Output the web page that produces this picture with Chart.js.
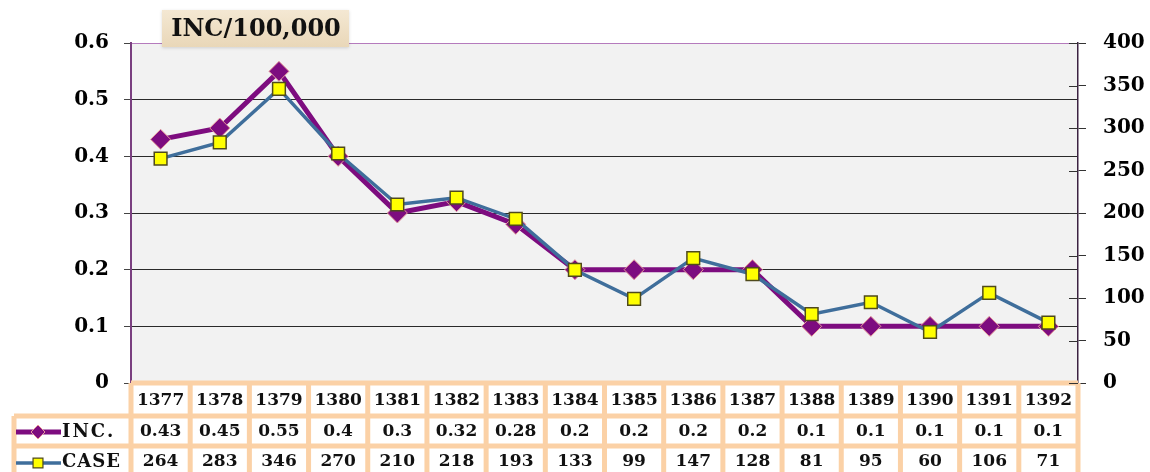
<!DOCTYPE html>
<html>
<head>
<meta charset="utf-8">
<title>INC/100,000</title>
<script src="https://cdn.jsdelivr.net/npm/chart.js@4/dist/chart.umd.min.js"></script>
<style>
  html, body { margin: 0; padding: 0; background: #fff; }
  #incidenceChart { display: block; }
</style>
</head>
<body>
<canvas id="incidenceChart" width="1150" height="472"></canvas>
<script>
// chart data
const years = ['1377', '1378', '1379', '1380', '1381', '1382', '1383', '1384',
               '1385', '1386', '1387', '1388', '1389', '1390', '1391', '1392'];
const incValues = [0.43, 0.45, 0.55, 0.4, 0.3, 0.32, 0.28, 0.2, 0.2, 0.2, 0.2, 0.1, 0.1, 0.1, 0.1, 0.1];
const caseValues = [264, 283, 346, 270, 210, 218, 193, 133, 99, 147, 128, 81, 95, 60, 106, 71];
const incTicks = [0, 0.1, 0.2, 0.3, 0.4, 0.5, 0.6];
const caseTicks = [0, 50, 100, 150, 200, 250, 300, 350, 400];
const titleText = 'INC/100,000';

document.addEventListener("DOMContentLoaded", function(event) {
    const FONT = "'DejaVu Serif', serif";
    const INC_COLOR = '#7d0c7f';
    const CASE_COLOR = '#3f6e9b';
    const TABLE_BORDER = '#fbd1a6';

    // grey plot area like excel
    const plotBackground = {
        id: 'plotBackground',
        beforeDraw(chart) {
            const { ctx, chartArea: a } = chart;
            ctx.save();
            ctx.fillStyle = '#f2f2f2';
            ctx.fillRect(a.left, a.top, a.right - a.left, a.bottom - a.top);
            ctx.restore();
        }
    };

    /**
     * Draws the excel style data table under the plot, columns follow the x scale
     */
    const dataTable = {
        id: 'dataTable',
        afterDraw(chart) {
            const { ctx, chartArea: a } = chart;
            const x = chart.scales.x;
            const colW = (a.right - a.left) / years.length;
            const rowLines = [a.bottom, 416, 446, chart.height + 10];
            const rowText = [401, 432, 462];
            const legendLeft = 14;

            ctx.save();
            ctx.fillStyle = '#fff';
            ctx.fillRect(a.left, a.bottom, a.right - a.left, chart.height - a.bottom);
            ctx.fillRect(legendLeft, rowLines[1], a.left - legendLeft, chart.height - rowLines[1]);

            ctx.strokeStyle = TABLE_BORDER;
            ctx.lineWidth = 5;
            ctx.beginPath();
            ctx.moveTo(a.left, rowLines[0]);
            ctx.lineTo(a.right, rowLines[0]);
            [rowLines[1], rowLines[2]].forEach((yy) => {
                ctx.moveTo(legendLeft, yy);
                ctx.lineTo(a.right, yy);
            });
            years.forEach((year, i) => {
                const left = x.getPixelForValue(i) - colW / 2;
                ctx.moveTo(left, rowLines[0]);
                ctx.lineTo(left, rowLines[3]);
            });
            ctx.moveTo(a.right, rowLines[0]);
            ctx.lineTo(a.right, rowLines[3]);
            ctx.moveTo(legendLeft, rowLines[1]);
            ctx.lineTo(legendLeft, rowLines[3]);
            ctx.stroke();

            // cell texts
            ctx.fillStyle = '#111';
            ctx.font = 'bold 17px ' + FONT;
            ctx.textAlign = 'center';
            ctx.textBaseline = 'middle';
            years.forEach((year, i) => {
                const cx = x.getPixelForValue(i);
                ctx.fillText(year, cx, rowText[0]);
                ctx.fillText(String(incValues[i]), cx, rowText[1]);
                ctx.fillText(String(caseValues[i]), cx, rowText[2]);
            });

            // legend keys
            ctx.lineWidth = 5;
            ctx.strokeStyle = INC_COLOR;
            ctx.beginPath();
            ctx.moveTo(16, rowText[1]);
            ctx.lineTo(61, rowText[1]);
            ctx.stroke();
            ctx.fillStyle = INC_COLOR;
            ctx.strokeStyle = '#e69a9a';
            ctx.lineWidth = 1;
            Chart.helpers.drawPoint(ctx, { pointStyle: 'rectRot', radius: 7, borderWidth: 1 }, 38, rowText[1]);

            ctx.lineWidth = 3.5;
            ctx.strokeStyle = CASE_COLOR;
            ctx.beginPath();
            ctx.moveTo(16, rowText[2] + 1);
            ctx.lineTo(61, rowText[2] + 1);
            ctx.stroke();
            ctx.fillStyle = '#ffff00';
            ctx.strokeStyle = '#4f4a1c';
            ctx.lineWidth = 1.2;
            Chart.helpers.drawPoint(ctx, { pointStyle: 'rect', radius: 7, borderWidth: 1.2 }, 38, rowText[2] + 1);

            ctx.fillStyle = '#111';
            ctx.textAlign = 'left';
            ctx.font = 'bold 18px ' + FONT;
            ctx.letterSpacing = '2px';
            ctx.fillText('INC.', 62, rowText[1]);
            ctx.letterSpacing = '1px';
            ctx.fillText('CASE', 62, rowText[2]);
            ctx.restore();
        }
    };

    // right axis ticks cross the axis line, draw the inner half
    const innerTicks = {
        id: 'innerTicks',
        afterDraw(chart) {
            const { ctx, chartArea: a } = chart;
            const y1 = chart.scales.y1;
            ctx.save();
            ctx.strokeStyle = '#333';
            ctx.lineWidth = 1;
            ctx.beginPath();
            y1.ticks.forEach((t) => {
                const yy = Math.round(y1.getPixelForValue(t.value)) + 0.5;
                ctx.moveTo(a.right - 9, yy);
                ctx.lineTo(a.right, yy);
            });
            ctx.stroke();
            ctx.restore();
        }
    };

    // the beige label box in the top left
    const titleBox = {
        id: 'titleBox',
        afterDraw(chart) {
            const { ctx } = chart;
            ctx.save();
            ctx.shadowColor = 'rgba(0,0,0,0.15)';
            ctx.shadowBlur = 3;
            ctx.shadowOffsetY = 1;
            const grad = ctx.createLinearGradient(0, 10, 0, 47);
            grad.addColorStop(0, '#f4e8d3');
            grad.addColorStop(1, '#e9d7b8');
            ctx.fillStyle = grad;
            ctx.fillRect(162, 10, 187, 37);
            ctx.shadowColor = 'transparent';
            ctx.fillStyle = '#111';
            ctx.font = 'bold 24px ' + FONT;
            ctx.textAlign = 'center';
            ctx.textBaseline = 'middle';
            ctx.fillText(titleText, 256, 30);
            ctx.restore();
        }
    };

    const tickFont = { family: FONT, size: 20, weight: 'bold' };
    const incMax = incTicks[incTicks.length - 1];

    new Chart(document.getElementById('incidenceChart'), {
        type: 'line',
        data: {
            labels: years,
            datasets: [{
                label: 'INC.',
                data: incValues,
                yAxisID: 'y',
                borderColor: INC_COLOR,
                borderWidth: 5,
                pointStyle: 'rectRot',
                pointRadius: 10,
                pointBackgroundColor: INC_COLOR,
                pointBorderColor: '#e69a9a',
                pointBorderWidth: 1,
                order: 1
            }, {
                label: 'CASE',
                data: caseValues,
                yAxisID: 'y1',
                borderColor: CASE_COLOR,
                borderWidth: 3.5,
                pointStyle: 'rect',
                pointRadius: 9,
                pointBackgroundColor: '#ffff00',
                pointBorderColor: '#4f4a1c',
                pointBorderWidth: 1.5,
                order: 0
            }]
        },
        options: {
            responsive: false,
            animation: false,
            layout: { padding: { top: 43, bottom: 89, left: 0, right: 0 } },
            plugins: {
                legend: { display: false },
                tooltip: { enabled: false }
            },
            scales: {
                x: { type: 'category', display: false, offset: true },
                y: {
                    position: 'left',
                    min: incTicks[0],
                    max: incMax,
                    ticks: { stepSize: incTicks[1] - incTicks[0], padding: 15, color: '#000', font: tickFont },
                    grid: {
                        color: (c) => {
                            if (Math.abs(c.tick.value - incMax) < 1e-9) return '#b57bbd';
                            if (c.tick.value === 0) return 'rgba(0,0,0,0)';
                            return '#2a2a2a';
                        },
                        lineWidth: 1,
                        tickLength: 7,
                        tickColor: '#444'
                    },
                    border: { color: '#7a3f80', width: 2 },
                    afterFit: (s) => { s.width = 131; }
                },
                y1: {
                    position: 'right',
                    min: caseTicks[0],
                    max: caseTicks[caseTicks.length - 1],
                    ticks: { stepSize: caseTicks[1] - caseTicks[0], padding: 17, color: '#000', font: tickFont },
                    grid: { drawOnChartArea: false, tickLength: 8, tickColor: '#333' },
                    border: { color: '#3c2242', width: 1.5 },
                    afterFit: (s) => { s.width = 72; }
                }
            }
        },
        plugins: [plotBackground, dataTable, innerTicks, titleBox]
    });
});
</script>
</body>
</html>
